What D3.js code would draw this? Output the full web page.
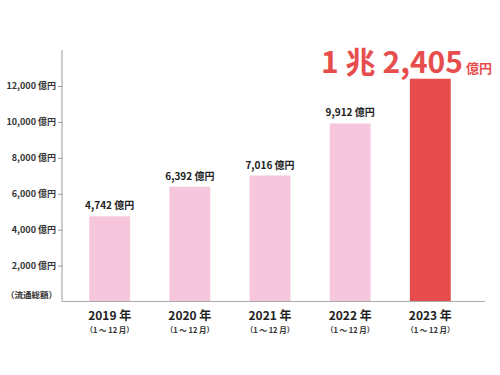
<!DOCTYPE html>
<html lang="ja">
<head>
<meta charset="UTF-8">
<title>流通総額</title>
<script src="https://d3js.org/d3.v7.min.js"></script>
<style>
  * { margin: 0; padding: 0; }
  body { background: #fff; font-family: 'Noto Sans CJK JP', 'Noto Sans', sans-serif; }
  svg { display: block; }
</style>
</head>
<body>
<svg id="chart" width="500" height="375"></svg>
<script>
// データ
const years = ["2019 年", "2020 年", "2021 年", "2022 年", "2023 年"];
const periods = ["（1 ～ 12 月）", "（1 ～ 12 月）", "（1 ～ 12 月）", "（1 ～ 12 月）", "（1 ～ 12 月）"];
const values = [4742, 6392, 7016, 9912, 12405];
const valueLabels = ["4,742 億円", "6,392 億円", "7,016 億円", "9,912 億円", ""];
const yTicks = [2000, 4000, 6000, 8000, 10000, 12000];

const svg = d3.select("#chart");
const axisLeftX = 62, axisRightX = 485, axisBottom = 301.5, axisTop = 50;

const x = d3.scaleBand().domain(years).range([70, 470]).paddingInner(0.49).paddingOuter(0.24);
const y = d3.scaleLinear().domain([0, 12000]).range([axisBottom, 86]);

// 軸
svg.append("line")
  .attr("x1", axisLeftX).attr("x2", axisLeftX).attr("y1", axisTop).attr("y2", axisBottom)
  .attr("stroke", "#aaa").attr("stroke-width", 1.2);

const yAxis = svg.append("g")
  .attr("transform", `translate(${axisLeftX},0)`)
  .call(d3.axisLeft(y).tickValues(yTicks).tickSize(4).tickPadding(2)
    .tickFormat(d => d3.format(",")(d) + " 億円"));
yAxis.select(".domain").remove();
yAxis.selectAll(".tick line").attr("stroke", "#999");
yAxis.selectAll(".tick text")
  .attr("fill", "#333").attr("font-size", 9).attr("font-weight", "bold")
  .attr("font-family", "'Noto Sans CJK JP', sans-serif");

svg.append("text")
  .attr("x", 57).attr("y", 298)
  .attr("text-anchor", "end")
  .attr("font-size", 8.5).attr("font-weight", "bold").attr("fill", "#333")
  .text("（流通総額）");

// 棒
svg.selectAll("rect.bar")
  .data(values)
  .enter().append("rect")
  .attr("class", "bar")
  .attr("x", (d, i) => x(years[i]))
  .attr("width", x.bandwidth())
  .attr("y", d => y(d))
  .attr("height", d => axisBottom - y(d))
  .attr("fill", (d, i) => i === values.length - 1 ? "#E84D4D" : "#F6C6DC");

svg.append("line")
  .attr("x1", axisLeftX).attr("x2", axisRightX).attr("y1", axisBottom).attr("y2", axisBottom)
  .attr("stroke", "#aaa").attr("stroke-width", 1.2);

// 値ラベル
svg.selectAll("text.val")
  .data(values)
  .enter().append("text")
  .attr("class", "val")
  .attr("x", (d, i) => x(years[i]) + x.bandwidth() / 2)
  .attr("y", d => y(d) - 7)
  .attr("text-anchor", "middle")
  .attr("font-size", 10).attr("font-weight", "bold").attr("fill", "#222")
  .text((d, i) => valueLabels[i]);

// 2023 強調ラベル
const big = svg.append("text")
  .attr("x", 492).attr("y", 73)
  .attr("text-anchor", "end")
  .attr("fill", "#E84D4D").attr("font-weight", "bold");
big.append("tspan").attr("font-size", 30).text("1 兆 2,405");
big.append("tspan").attr("font-size", 13).attr("dx", 3).text("億円");

// X ラベル
const xl = svg.selectAll("g.xl")
  .data(years)
  .enter().append("g")
  .attr("class", "xl")
  .attr("transform", d => `translate(${x(d) + x.bandwidth() / 2},0)`);
xl.append("text")
  .attr("y", 320).attr("text-anchor", "middle")
  .attr("font-size", 12).attr("font-weight", "bold").attr("fill", "#222")
  .text(d => d);
xl.append("text")
  .attr("y", 333).attr("text-anchor", "middle")
  .attr("font-size", 7.5).attr("font-weight", "bold").attr("fill", "#333")
  .text((d, i) => periods[i]);
</script>
</body>
</html>
